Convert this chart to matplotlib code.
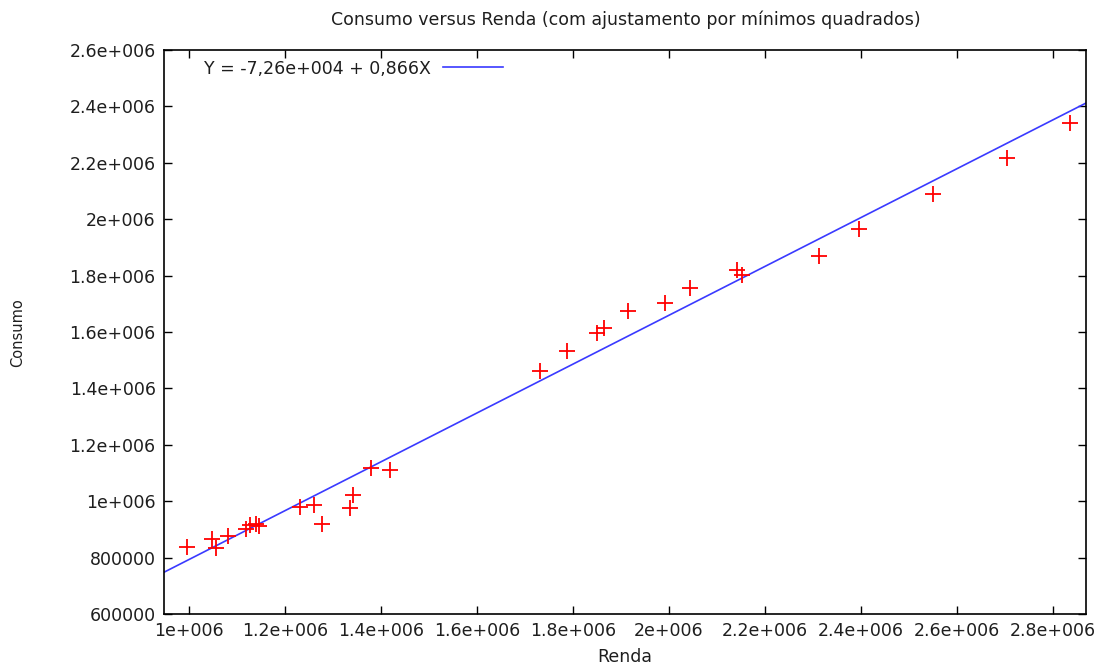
import matplotlib
matplotlib.use('Agg')
import matplotlib.pyplot as plt

# Renda (X) and Consumo (Y)
renda = [0.996e6, 1.048e6, 1.056e6, 1.082e6, 1.118e6, 1.127e6, 1.140e6, 1.146e6,
         1.232e6, 1.260e6, 1.276e6, 1.335e6, 1.342e6, 1.379e6, 1.419e6,
         1.732e6, 1.788e6, 1.850e6, 1.864e6, 1.915e6, 1.991e6, 2.043e6,
         2.142e6, 2.152e6, 2.313e6, 2.397e6, 2.550e6, 2.704e6, 2.835e6]
consumo = [0.838e6, 0.867e6, 0.833e6, 0.878e6, 0.902e6, 0.914e6, 0.920e6, 0.912e6,
           0.979e6, 0.988e6, 0.919e6, 0.977e6, 1.022e6, 1.118e6, 1.111e6,
           1.460e6, 1.531e6, 1.596e6, 1.614e6, 1.674e6, 1.702e6, 1.755e6,
           1.819e6, 1.802e6, 1.870e6, 1.964e6, 2.088e6, 2.217e6, 2.341e6]

# least squares fit shown in the legend
intercept = -7.26e4
slope = 0.866
fit_label = 'Y = -7,26e+004 + 0,866X'

xlim = (0.9476e6, 2.869e6)
ylim = (600000, 2.6e6)

xticks = [1.0e6, 1.2e6, 1.4e6, 1.6e6, 1.8e6, 2.0e6, 2.2e6, 2.4e6, 2.6e6, 2.8e6]
xticklabels = ['1e+006', '1.2e+006', '1.4e+006', '1.6e+006', '1.8e+006',
               '2e+006', '2.2e+006', '2.4e+006', '2.6e+006', '2.8e+006']
yticks = [600000, 800000, 1.0e6, 1.2e6, 1.4e6, 1.6e6, 1.8e6, 2.0e6, 2.2e6, 2.4e6, 2.6e6]
yticklabels = ['600000', '800000', '1e+006', '1.2e+006', '1.4e+006', '1.6e+006',
               '1.8e+006', '2e+006', '2.2e+006', '2.4e+006', '2.6e+006']

plt.rcParams['font.family'] = ['DejaVu Sans']
text_color = '#1e1e1e'
fs = 12.5

fig = plt.figure(figsize=(11.05, 6.66), dpi=100)
ax = fig.add_axes([0.1484, 0.0781, 0.8344, 0.8468])

ax.plot(renda, consumo, linestyle='none', marker='+', markersize=11,
        markeredgewidth=1.3, color='#ff0000', zorder=3)
ax.plot(xlim, [intercept + slope * xlim[0], intercept + slope * xlim[1]],
        color='#3a3aff', linewidth=1.2, label=fit_label, zorder=2)

ax.set_xlim(*xlim)
ax.set_ylim(*ylim)
ax.set_xticks(xticks)
ax.set_xticklabels(xticklabels)
ax.set_yticks(yticks)
ax.set_yticklabels(yticklabels)
ax.tick_params(direction='in', top=True, right=True, length=6, width=1,
               labelsize=fs, labelcolor=text_color, pad=6)
for s in ax.spines.values():
    s.set_linewidth(1.2)

leg = ax.legend(loc='upper left', bbox_to_anchor=(0.033, 1.0), frameon=False,
                markerfirst=False, handlelength=3.45, handletextpad=0.7,
                fontsize=fs, borderaxespad=0.15)
for t in leg.get_texts():
    t.set_color(text_color)

fig.text(0.566, 0.97, 'Consumo versus Renda (com ajustamento por mínimos quadrados)',
         ha='center', va='center', fontsize=fs, color=text_color)
fig.text(0.565, 0.013, 'Renda', ha='center', va='center', fontsize=fs, color=text_color)
fig.text(0.016, 0.5, 'Consumo', ha='center', va='center', rotation=90,
         fontsize=10.5, color=text_color)

fig.savefig('out.png', dpi=100)
